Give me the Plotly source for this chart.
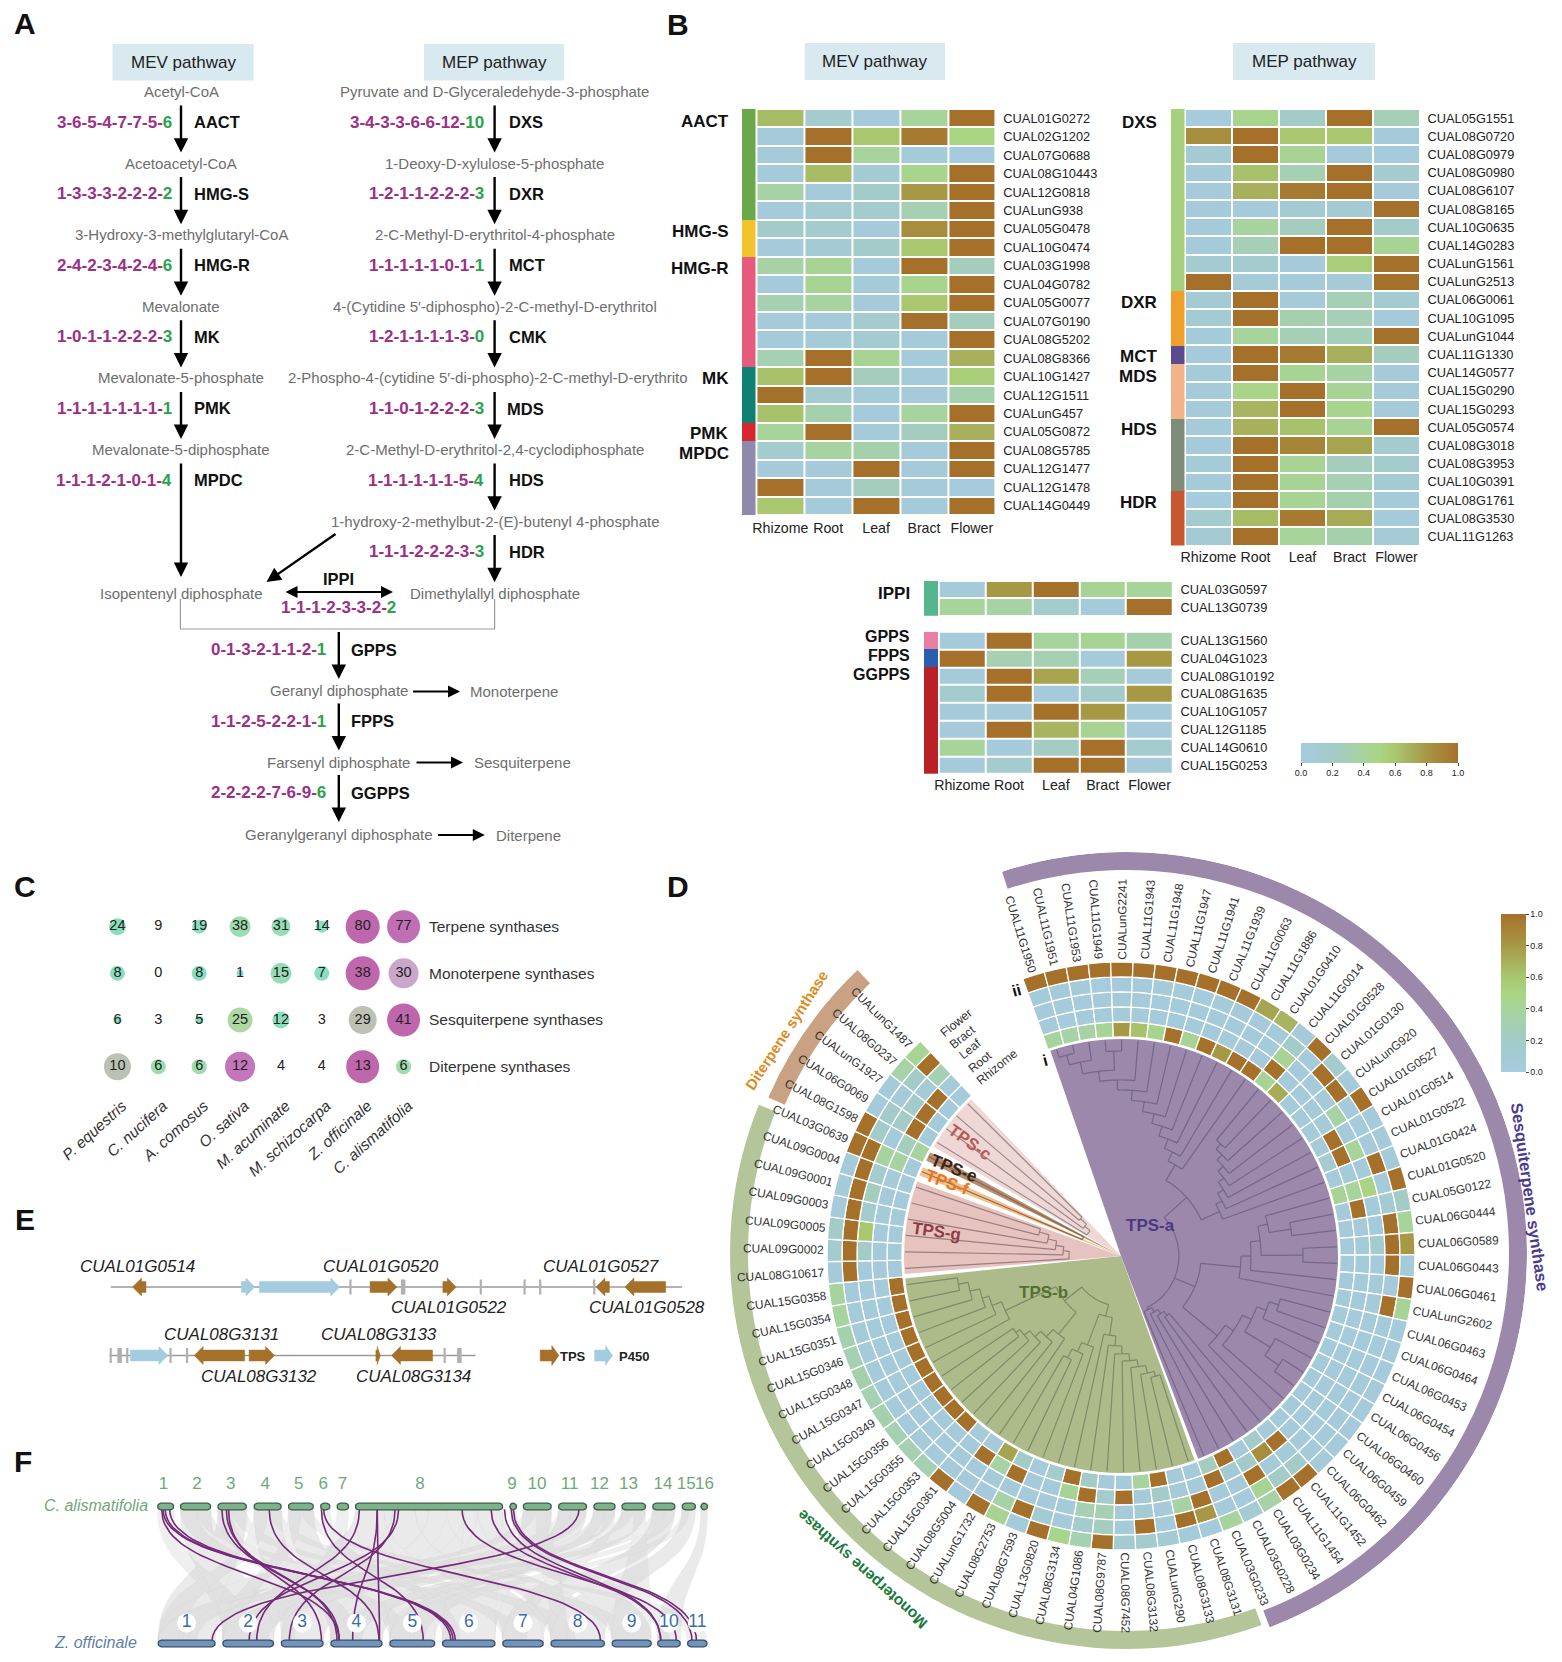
import numpy as np
import plotly.graph_objects as go

# ------------------------------------------------ DATA
tissues = ["Rhizome", "Root", "Leaf", "Bract", "Flower"]
mev_metabolites = ["Acetyl-CoA", "Acetoacetyl-CoA", "3-Hydroxy-3-methylglutaryl-CoA", "Mevalonate",
                   "Mevalonate-5-phosphate", "Mevalonate-5-diphosphate"]
mev_enzymes = ["AACT", "HMG-S", "HMG-R", "MK", "PMK", "MPDC"]
mev_counts = ["3-6-5-4-7-7-5-6", "1-3-3-3-2-2-2-2", "2-4-2-3-4-2-4-6", "1-0-1-1-2-2-2-3", "1-1-1-1-1-1-1-1", "1-1-1-2-1-0-1-4"]
mep_metabolites = ["Pyruvate and D-Glyceraledehyde-3-phosphate", "1-Deoxy-D-xylulose-5-phosphate",
                   "2-C-Methyl-D-erythritol-4-phosphate", "4-(Cytidine 5′-diphospho)-2-C-methyl-D-erythritol",
                   "2-Phospho-4-(cytidine 5′-di-phospho)-2-C-methyl-D-erythrito",
                   "2-C-Methyl-D-erythritol-2,4-cyclodiphosphate", "1-hydroxy-2-methylbut-2-(E)-butenyl 4-phosphate"]
mep_enzymes = ["DXS", "DXR", "MCT", "CMK", "MDS", "HDS", "HDR"]
mep_counts = ["3-4-3-3-6-6-12-10", "1-2-1-1-2-2-2-3", "1-1-1-1-1-0-1-1", "1-2-1-1-1-1-3-0", "1-1-0-1-2-2-2-3", "1-1-1-1-1-1-5-4", "1-1-1-2-2-2-3-3"]
end_metabolites = ["Geranyl diphosphate", "Farsenyl diphosphate", "Geranylgeranyl diphosphate"]
end_enzymes = ["GPPS", "FPPS", "GGPPS"]
end_counts = ["0-1-3-2-1-1-2-1", "1-1-2-5-2-2-1-1", "2-2-2-2-7-6-9-6"]
end_products = ["Monoterpene", "Sesquiterpene", "Diterpene"]

mev_genes = ["CUAL01G0272", "CUAL02G1202", "CUAL07G0688", "CUAL08G10443", "CUAL12G0818", "CUALunG938", "CUAL05G0478", "CUAL10G0474",
             "CUAL03G1998", "CUAL04G0782", "CUAL05G0077", "CUAL07G0190", "CUAL08G5202", "CUAL08G8366", "CUAL10G1427", "CUAL12G1511",
             "CUALunG457", "CUAL05G0872", "CUAL08G5785", "CUAL12G1477", "CUAL12G1478", "CUAL14G0449"]
mev_values = [[.65,.15,.05,.4,1],[.05,1,.6,.95,.5],[.05,1,.4,.05,.03],[.05,.65,.1,.45,1],[.35,.05,.2,.8,1],[.05,.12,.15,.3,1],
              [.2,.15,.05,.85,1],[.05,.1,.2,.6,1],[.35,.42,.05,1,.25],[.05,.42,.05,.45,1],[.3,.38,.05,.6,1],[.05,.05,.15,1,.25],
              [.05,.08,.12,.05,1],[.3,1,.42,.05,.7],[.62,1,.25,.05,.55],[1,.15,.07,.05,.32],[.62,.32,.05,.38,1],[.4,1,.05,.25,.7],
              [.15,.38,.32,.05,1],[.05,.05,1,.05,1],[1,.05,.25,.05,.03],[.6,.05,1,.05,1]]
mev_groups = [("AACT",6,"#6aa84a"),("HMG-S",2,"#f2c42b"),("HMG-R",6,"#e45b7b"),("MK",3,"#0f8173"),("PMK",1,"#d9262e"),("MPDC",4,"#8f8aab")]
mep_genes = ["CUAL05G1551","CUAL08G0720","CUAL08G0979","CUAL08G0980","CUAL08G6107","CUAL08G8165","CUAL10G0635","CUAL14G0283","CUALunG1561",
             "CUALunG2513","CUAL06G0061","CUAL10G1095","CUALunG1044","CUAL11G1330","CUAL14G0577","CUAL15G0290","CUAL15G0293","CUAL05G0574",
             "CUAL08G3018","CUAL08G3953","CUAL10G0391","CUAL08G1761","CUAL08G3530","CUAL11G1263"]
mep_values = [[.03,.45,.2,1,.28],[.85,1,.6,.6,.05],[.1,1,.42,.05,.03],[.05,.62,.3,1,.15],[.05,.7,.95,1,.05],[.05,.05,.1,.1,1],[.05,.38,.25,1,.18],
              [.05,.28,1,1,.42],[.12,.15,.05,.55,1],[1,.08,.05,.08,1],[.1,1,.05,.28,.12],[.1,1,.32,.28,.05],[.05,.4,.28,.28,1],[.05,1,.95,.7,.25],
              [.05,1,.42,.35,.05],[.05,.48,1,.42,.05],[.05,.68,1,.45,.05],[.05,.7,.62,.42,1],[.05,1,.9,.75,.15],[.05,1,.42,.25,.15],[.05,1,.42,.3,.12],
              [.03,1,.42,.32,.05],[.15,.65,.95,.72,.05],[.1,1,.4,.32,.08]]
mep_groups = [("DXS",10,"#a6cf7e"),("DXR",3,"#ef9f2a"),("MCT",1,"#5b4a8e"),("MDS",3,"#f3b389"),("HDS",4,"#7f8c78"),("HDR",3,"#c8562f")]
ippi_genes = ["CUAL03G0597", "CUAL13G0739"]
ippi_values = [[.05,.8,1,.42,.4],[.4,.35,.15,.05,1]]
ippi_groups = [("IPPI",2,"#55b58c")]
pp_genes = ["CUAL13G1560","CUAL04G1023","CUAL08G10192","CUAL08G1635","CUAL10G1057","CUAL12G1185","CUAL14G0610","CUAL15G0253"]
pp_values = [[.05,1,.4,.42,.32],[1,.3,.3,.05,.8],[.05,1,.75,.28,.05],[.15,1,.05,.18,.8],[.05,.05,1,.8,.05],[.05,1,.68,.42,.05],[.4,.05,.22,1,.15],[.05,.15,1,1,.05]]
pp_groups = [("GPPS",1,"#e97fa2"),("FPPS",1,"#2a5fae"),("GGPPS",6,"#ba2127")]

species = ["P. equestris","C. nucifera","A. comosus","O. sativa","M. acuminate","M. schizocarpa","Z. officinale","C. alismatifolia"]
tps_classes = ["Terpene synthases","Monoterpene synthases","Sesquiterpene synthases","Diterpene synthases"]
tps_counts = [[24,9,19,38,31,14,80,77],[8,0,8,1,15,7,38,30],[6,3,5,25,12,3,29,41],[10,6,6,12,4,4,13,6]]

tps_genes = ["CUAL11G1950","CUAL11G1951","CUAL11G1953","CUAL11G1949","CUALunG2241","CUAL11G1943","CUAL11G1948","CUAL11G1947","CUAL11G1941","CUAL11G1939",
 "CUAL11G0063","CUAL11G1886","CUAL01G0410","CUAL11G0014","CUAL01G0528","CUAL01G0130","CUALunG920","CUAL01G0527","CUAL01G0514","CUAL01G0522","CUAL01G0424",
 "CUAL01G0520","CUAL05G0122","CUAL06G0444","CUAL06G0589","CUAL06G0443","CUAL06G0461","CUALunG2602","CUAL06G0463","CUAL06G0464","CUAL06G0453","CUAL06G0454",
 "CUAL06G0456","CUAL06G0460","CUAL06G0459","CUAL06G0462","CUAL11G1452","CUAL11G1454","CUAL03G0234","CUAL03G0228","CUAL03G0233",
 "CUAL08G3131","CUAL08G3133","CUALunG290","CUAL08G3132","CUAL08G7452","CUAL08G9787","CUAL04G1086","CUAL08G3134","CUAL13G0820","CUAL08G7593","CUAL08G2753",
 "CUALunG1732","CUAL08G5004","CUAL15G0361","CUAL15G0353","CUAL15G0355","CUAL15G0356","CUAL15G0349","CUAL15G0347","CUAL15G0348","CUAL15G0346","CUAL15G0351",
 "CUAL15G0354","CUAL15G0358","CUAL08G10617","CUAL09G0002","CUAL09G0005","CUAL09G0003","CUAL09G0001","CUAL09G0004",
 "CUAL03G0639","CUAL08G1598","CUAL06G0069","CUALunG1927","CUAL08G0237","CUALunG1487"]
tps_values = [
 [.38,.05,.05,.05,1],[.35,.03,.05,.05,1],[.35,.05,.03,.05,1],[.42,.05,.05,.03,1],[.8,.05,.05,.05,1],[.62,.05,.05,.05,1],[.45,.05,.03,.05,1],
 [1,.05,.05,.05,1],[.42,.05,.05,.03,1],[1,.05,.05,.05,1],[.8,.05,.05,.05,1],[1,.05,.05,.05,.75],[1,.05,.05,.05,.68],[.42,1,.42,.18,.05],
 [.72,.05,.05,.05,1],[.05,.05,.05,1,.15],[.05,.05,.05,1,.05],[.05,.05,.35,.05,1],[.05,1,.05,.05,.05],[.12,1,.4,.05,.05],[.05,.05,.05,1,.05],
 [.42,.4,.5,.05,1],[.05,1,.05,.1,.2],[.05,.05,.05,1,.4],[.05,.08,.15,1,.8],[.05,.05,.05,1,.05],[.05,.05,.05,.05,1],[.05,.05,.05,1,.42],
 [.05,.05,.05,.05,.05],[.05,.05,.05,.05,.05],[.05,.05,.05,.05,.05],[.05,.05,.05,.05,.05],[.05,.05,.05,.05,.05],[.05,.05,.05,.05,.05],
 [.05,.05,.05,.05,.05],[.05,.05,.05,.05,.05],[.05,1,.05,.2,1],[.18,.85,.05,.2,1],[.05,.18,1,.42,.35],[1,.1,.05,.05,.1],[.25,1,.05,.05,.38],
 [.05,.05,1,.8,.05],[.05,.05,.35,1,.05],[1,.18,.05,.05,.12],[.38,.05,.12,1,.15],[.05,1,.05,.05,.15],[.05,.15,.3,.25,1],[.2,1,.3,.15,.3],
 [1,.42,.05,.05,.45],[.15,.05,.05,.1,1],[.05,.05,.05,1,.05],[.18,1,.05,.35,.42],[.75,.35,.05,.05,1],[.05,1,.05,.05,.05],[.05,.05,.05,.05,1],
 [1,.05,.05,.05,.3],[1,.05,.05,.05,.3],[1,.05,.05,.05,.3],[1,.05,.05,.05,.32],[1,.05,.05,.05,.3],[1,.05,.05,.05,.32],[1,.05,.05,.05,.3],
 [1,.05,.05,.05,.32],[1,.05,.05,.05,.38],[1,.05,.05,.05,.38],
 [.05,.05,.05,1,.05],[.05,.05,.2,1,.15],[.05,.05,.6,1,.2],[.05,.05,.15,1,.05],[.05,.05,.25,1,.05],[.05,.05,.15,1,.05],[.05,.38,.38,1,1],
 [.38,.25,.05,.18,1],[.05,1,.2,.18,.05],[.05,1,.2,.05,.05],[.05,1,.08,.2,.35],[.05,.05,.3,1,.42]]

# panel E, in track units
track1_genes = [(297,327,-1,"tps"),(541,571,1,"p450"),(581,761,1,"p450"),(829,889,1,"tps"),(992,1022,1,"tps"),(1335,1365,-1,"tps"),(1400,1491,-1,"tps")]
track2_genes = [(292,376,1,"p450"),(435,548,-1,"tps"),(558,615,1,"tps"),(842,852,1,"tps"),(877,969,-1,"tps")]
track1_exons = [785,1077,1175,1210,1331]
track1_exons_wide = [903]
track2_exons = [248,285,382,419,996]
track2_exons_wide = [268,1029]
track_names = [("CUAL01G0514",308,1266),("CUAL01G0520",854,1266),("CUAL01G0522",1006,1307.5),("CUAL01G0527",1346,1266),("CUAL01G0528",1450,1307.5),
               ("CUAL08G3131",496,1334),("CUAL08G3133",848,1334),("CUAL08G3132",580,1376),("CUAL08G3134",927,1376)]

# panel F
top_chrom = [(353,389),(404,472),(488,552),(569,630),(646,702),(718,739),(755,781),(796,1126),(1142,1157),(1172,1235),(1251,1314),(1330,1378),(1393,1446),(1462,1512),(1528,1558),(1570,1585)]
top_label_x = [366,441,517,594,669,724,767,941,1147,1203,1276,1343,1408,1485,1537,1578]
bot_chrom = [(354,482),(499,613),(630,724),(741,856),(873,974),(991,1109),(1126,1217),(1234,1354),(1371,1459),(1473,1524),(1540,1584)]
gray_links = [(404,472,499,613),(488,552,354,482),(569,630,630,724),(646,702,741,856),(796,880,354,482),(880,960,499,613),(960,1040,630,724),(1040,1126,991,1109),
 (796,860,873,974),(860,930,1126,1217),(930,1000,1234,1354),(1000,1070,741,856),(1070,1126,1371,1459),(1172,1235,991,1109),(1251,1314,873,974),(1330,1378,630,724),
 (1393,1446,741,856),(1462,1512,1126,1217),(1528,1558,1234,1354),(1570,1585,1473,1524),(353,389,499,560),(404,440,873,920),(440,472,1126,1170),(488,520,741,800),
 (520,552,1234,1290),(569,600,354,410),(600,630,1371,1420),(646,675,499,540),(675,702,1540,1584),(718,739,991,1030),(755,781,630,660),(1142,1157,1473,1500),
 (1172,1200,354,400),(1200,1235,1234,1270),(1251,1280,354,440),(1280,1314,499,570),(1330,1354,873,925),(1354,1378,1126,1180),(1393,1420,354,420),(1420,1446,1371,1459),
 (1462,1490,499,600),(1490,1512,741,810),(1528,1545,873,950)]
purple_links = [(365,1020),(370,1015),(380,1010),(362,760),(497,760),(507,755),(512,720),(603,849),(805,575),(845,790),(885,648),(893,558),(1297,475),(720,948),(725,1345),
                (1035,1515),(1100,1480),(1130,1480),(1145,1550),(1150,1560),(845,850)]

# ------------------------------------------------ helpers
W, H = 1546, 1646
FONT = "Liberation Sans"
PURPLE, GREEN = "#9c2f86", "#2ca24c"
GRAYTXT = "#6e6e6e"
HEAT = [[0,"#a5cbe0"],[.2,"#a3cbc8"],[.4,"#a7d49a"],[.5,"#a9d582"],[.6,"#a8c76f"],[.8,"#a79846"],[1,"#a5702a"]]
fx = lambda p: (p - 8) / W
fy = lambda p: 1 - (p - 8) / H

fig = go.Figure()
layout = dict(width=W, height=H, autosize=False, margin=dict(l=0, r=0, t=0, b=0, autoexpand=False), showlegend=False,
              paper_bgcolor="white", plot_bgcolor="white", font=dict(family=FONT, color="#222"),
              xaxis=dict(domain=[0,1], range=[8,8+W], visible=False, fixedrange=True),
              yaxis=dict(domain=[0,1], range=[8+H,8], visible=False, fixedrange=True))
axn = [1]
def new_axes(px0, px1, py0, py1, xopt, yopt):
    axn[0] += 1
    n = axn[0]
    layout[f"xaxis{n}"] = dict(domain=[fx(px0), fx(px1)], anchor=f"y{n}", fixedrange=True, **xopt)
    layout[f"yaxis{n}"] = dict(domain=[fy(py1), fy(py0)], anchor=f"x{n}", fixedrange=True, **yopt)
    return f"x{n}", f"y{n}"

anns = []
def txt(x, y, s, size=14, color="#222", xa="center", angle=0):
    anns.append(dict(x=x, y=y, xref="x", yref="y", text=s, showarrow=False, xanchor=xa, yanchor="middle",
                     textangle=angle, font=dict(size=size, color=color, family=FONT)))
def arrow(x0, y0, x1, y1, side="end", w=2.4):
    anns.append(dict(x=x1, y=y1, ax=x0, ay=y0, xref="x", yref="y", axref="x", ayref="y", text="", showarrow=True,
                     arrowhead=2, arrowsize=1.2, arrowwidth=w, arrowcolor="black", arrowside=side, startarrowhead=2, startarrowsize=1.2, standoff=0, startstandoff=0))
def counts(x, y, s, xa="right"):
    head, last = s.rsplit("-", 1)
    txt(x, y, f'<b>{head}-<span style="color:{GREEN}">{last}</span></b>', 17, PURPLE, xa)

shapes = []
def box(x0, y0, x1, y1, label, size=17):
    shapes.append(dict(type="rect", xref="x", yref="y", x0=x0, x1=x1, y0=y0, y1=y1, fillcolor="#d8e9f0", line_width=0, layer="below"))
    txt((x0+x1)/2, (y0+y1)/2, label, size, "#222")

for s, x, y in [("A",24.5,23),("B",678,24),("C",24.5,886),("D",678,886),("E",24.5,1219),("F",23,1461)]:
    txt(x, y, f"<b>{s}</b>", 30, "#111")

# ------------------------------------------------ panel A
box(112.5, 44, 253.6, 80.5, "MEV pathway")
box(424, 44, 564, 80.5, "MEP pathway")
X1, X2, X3 = 181, 494.6, 338.8
STEP, BASE = 71.6, 91.5
GF = 15
for i, (m, e, c) in enumerate(zip(mev_metabolites, mev_enzymes, mev_counts)):
    y = BASE + STEP*i
    txt(X1, y, m, GF, GRAYTXT)
    counts(174, y+30.5, c)
    txt(192.4, y+30.5, f"<b>{e}</b>", 16.5, "#111", "left")
    arrow(X1, y+12.5, X1, (y+STEP-10.5) if i < 5 else 577)
for i, (m, e, c) in enumerate(zip(mep_metabolites, mep_enzymes, mep_counts)):
    y = BASE + STEP*i
    txt(487.5 if i == 4 else X2, y, m, GF, GRAYTXT)
    counts(486, y+30.5, c)
    txt(504.5 if e == "MDS" else 506.7, y+30.5 + (1 if e == "MDS" else 0), f"<b>{e}</b>", 16.5, "#111", "left")
    arrow(X2, y+12.5, X2, y+STEP-10.5)
txt(X1, 593, "Isopentenyl diphosphate", GF, GRAYTXT)
txt(X2, 593, "Dimethylallyl diphosphate", GF, GRAYTXT)
arrow(337, 533, 266.5, 582)
arrow(284, 592, 393, 592, side="end+start", w=2)
txt(X3, 578.5, "<b>IPPI</b>", 16.5, "#111")
counts(X3, 607, "1-1-1-2-3-3-2-2", "center")
shapes.append(dict(type="path", xref="x", yref="y", path=f"M {X1-0.6} 599 L {X1-0.6} 629 L {X2} 629 L {X2} 599", line=dict(color="#9a9a9a", width=1.2)))
ENDX = [(411.6,460,691.5,514),(415,463,762.5,522),(436.6,484.8,835,528)]
for i, (m, e, c, p) in enumerate(zip(end_metabolites, end_enzymes, end_counts, end_products)):
    ytop = 630.5 + 71.5*i
    arrow(X3, ytop, X3, ytop+48.5)
    counts(328, ytop+19, c)
    txt(348.7, ytop+19, f"<b>{e}</b>", 16.5, "#111", "left")
    txt(X3, 690.5 + 71.8*i, m, GF, GRAYTXT)
    a0, a1, ya, xp = ENDX[i]
    arrow(a0, ya, a1, ya, w=2)
    txt(xp, ya, p, GF, GRAYTXT)

# ------------------------------------------------ panel B
def heat_block(genes, values, groups, px0, px1, py0, py1, bar0, bar1, glabel_x, glabel_y, xticks=True, cbar=False, gsize=17, standoff=1):
    ax, ay = new_axes(px0, px1, py0, py1,
        dict(type="category", categoryorder="array", categoryarray=tissues, range=[-.5,4.5], showgrid=False, zeroline=False, showline=False,
             side="bottom", tickangle=0, ticks="", tickfont=dict(size=14.2, color="#222"), showticklabels=xticks, ticklabelstandoff=standoff),
        dict(type="category", categoryorder="array", categoryarray=genes, range=[len(genes)-.5,-.5], side="right", showgrid=False, zeroline=False, showline=False,
             ticks="outside", ticklen=4, tickcolor="rgba(0,0,0,0)", tickfont=dict(size=12.8, color="#222"), tickmode="array", tickvals=genes, ticktext=genes))
    h = go.Heatmap(z=values, x=tissues, y=genes, colorscale=HEAT, zmin=0, zmax=1, xgap=2, ygap=2, xaxis=ax, yaxis=ay, hoverinfo="skip", showscale=cbar)
    if cbar:
        h.colorbar = dict(orientation="h", x=fx(1301), xanchor="left", y=fy(743), yanchor="top", len=157, lenmode="pixels", thickness=20, outlinewidth=0,
                          tickvals=[0,.2,.4,.6,.8,1], ticktext=["0.0","0.2","0.4","0.6","0.8","1.0"], ticks="outside", ticklen=3, tickfont=dict(size=9, color="#222"), xpad=0, ypad=0)
    fig.add_trace(h)
    bx, _ = new_axes(bar0, bar1, py0, py1, dict(visible=False, type="category"), dict(visible=False))
    gi = [i for i, g in enumerate(groups) for _ in range(g[1])]
    cs = []
    for i, g in enumerate(groups):
        cs += [[i/len(groups), g[2]], [(i+1)/len(groups), g[2]]]
    fig.add_trace(go.Heatmap(z=[[i+.5] for i in gi], x=["group"], y=genes, colorscale=cs, zmin=0, zmax=len(groups), xaxis=bx, yaxis=ay, showscale=False, hoverinfo="skip"))
    for g, y in zip(groups, glabel_y):
        txt(glabel_x, y, f"<b>{g[0]}</b>", gsize, "#111", "right")

box(804.7, 43, 945, 80, "MEV pathway")
box(1233, 43, 1375, 80, "MEP pathway")
heat_block(mev_genes, mev_values, mev_groups, 756.4, 995.8, 109, 515, 742, 755.5, 731, [121,231,268,378,433,453], standoff=3)
heat_block(mep_genes, mep_values, mep_groups, 1185, 1420, 109, 545.5, 1171, 1184.5, 1159, [122,302,356,376,429,502])
heat_block(ippi_genes, ippi_values, ippi_groups, 938.7, 1173, 581, 615.7, 924, 938, 912, [593], xticks=False, cbar=True)
heat_block(pp_genes, pp_values, pp_groups, 938.7, 1173, 631.7, 774, 924, 938, 912, [636,655,674], gsize=16)

# ------------------------------------------------ panel C
cx, cy = new_axes(97, 424, 903.3, 1090,
    dict(type="category", categoryorder="array", categoryarray=species, range=[-.5,7.5], showgrid=False, zeroline=False, tickangle=-42, ticks="",
         tickfont=dict(size=15.5, color="#333", style="italic"), ticklabelstandoff=3, ticklabelshift=5),
    dict(type="category", categoryorder="array", categoryarray=tps_classes, range=[3.5,-.5], side="right", showgrid=False, zeroline=False, ticks="",
         tickfont=dict(size=15.5, color="#333"), ticklabelstandoff=4))
bubble_diam = [[17,0,14,21,19,12,34,33],[15,0,15,7,21,15,34,30],[8,0,8,25,17,0,28,33],[27,15,15,30,0,0,33,15]]
px_, py_, tt, col = [], [], [], []
for r, row in zip(tps_classes, tps_counts):
    for sp, v in zip(species, row):
        px_.append(sp); py_.append(r); tt.append(str(v)); col.append(v/max(row))
sz = [d for row in bubble_diam for d in row]
fig.add_trace(go.Scatter(x=px_, y=py_, text=tt, mode="markers+text", xaxis=cx, yaxis=cy, textposition="middle center", textfont=dict(size=14.5, color="#222"),
    cliponaxis=False, hoverinfo="skip",
    marker=dict(size=sz, sizemode="diameter", color=col, cmin=0, cmax=1, line_width=0, opacity=.95,
                colorscale=[[0,"#7fdcc8"],[.3,"#85dcb8"],[.6,"#a8d89c"],[.71,"#bcbcb0"],[.77,"#b5bfb0"],[.79,"#c8a0c8"],[.92,"#c070b8"],[1,"#bb5fa9"]])))

# ------------------------------------------------ panel E
ex, ey = new_axes(100, 700, 1270, 1375,
    dict(range=[100*2.24, 700*2.24], visible=False), dict(range=[2+19.5/68.5, 1-17/68.5], visible=False))
BROWN, BLUE = "#a5702a", "#a3cce0"
def gene_poly(x0, x1, tr, d, b=.079, hh=.131, hl=20):
    hl = min(hl, (x1-x0)*.7)
    if d > 0:
        xs = [x0, x1-hl, x1-hl, x1, x1-hl, x1-hl, x0, x0]
    else:
        xs = [x1, x0+hl, x0+hl, x0, x0+hl, x0+hl, x1, x1]
    ys = [tr-b, tr-b, tr-hh, tr, tr+hh, tr+b, tr+b, tr-b]
    return xs, ys
fig.add_trace(go.Scatter(x=[248,1528,None,245,1065], y=[1,1,None,2,2], mode="lines", line=dict(color="#9a9a9a", width=1.4), xaxis=ex, yaxis=ey, hoverinfo="skip"))
for lists, wd in (((track1_exons, track2_exons), 2.2), ((track1_exons_wide, track2_exons_wide), 4.5)):
    ex_x, ex_y = [], []
    for t, lst in zip((1, 2), lists):
        for v in lst:
            ex_x += [v, v, None]; ex_y += [t-.11, t+.11, None]
    fig.add_trace(go.Scatter(x=ex_x, y=ex_y, mode="lines", line=dict(color="#b0b0b0", width=wd), xaxis=ex, yaxis=ey, hoverinfo="skip"))
for kind, color in (("tps", BROWN), ("p450", BLUE)):
    xs, ys = [], []
    for t, lst in ((1, track1_genes), (2, track2_genes)):
        for a, b, d, k in lst:
            if k == kind:
                gx, gy = gene_poly(a, b, t, d)
                xs += gx + [None]; ys += gy + [None]
    a, b = (1210, 1252) if kind == "tps" else (1332, 1372)
    gx, gy = gene_poly(a, b, 2, 1, .08, .145, 16)
    xs += gx + [None]; ys += gy + [None]
    fig.add_trace(go.Scatter(x=xs, y=ys, mode="lines", fill="toself", fillcolor=color, line=dict(color=color, width=.5), xaxis=ex, yaxis=ey, hoverinfo="skip"))
for name, x, y in track_names:
    txt(x/2.24, y, f"<i>{name}</i>", 17, "#222")
txt(558, 1356, "<b>TPS</b>", 13, "#222", "left")
txt(617, 1356, "<b>P450</b>", 13, "#222", "left")

# ------------------------------------------------ panel F
shapes.append(dict(type="rect", xref="x", yref="y", x0=45, x1=712, y0=1497, y1=1650, fillcolor="#f8f8f8", line_width=0, layer="below"))
Y0, Y1 = 1506.5, 1643.5
fxa, fya = new_axes(40, 720, 1470, 1654,
    dict(range=[40*2.24, 720*2.24], visible=False),
    dict(range=[(1654-Y0)/(Y1-Y0), (1470-Y0)/(Y1-Y0)], visible=False))
def bez(x0, x1, n=30, y0=.02, y1=.98):
    t = np.linspace(0, 1, n)
    xs = (1-t)**3*x0 + 3*(1-t)**2*t*x0 + 3*(1-t)*t**2*x1 + t**3*x1
    ys = (1-t)**3*y0 + 3*(1-t)**2*t*(y0+.5) + 3*(1-t)*t**2*(y1-.5) + t**3*y1
    return xs.tolist(), ys.tolist()
for sel, color in ((slice(0,20), "rgba(205,205,205,.42)"), (slice(20,None), "rgba(205,205,205,.32)")):
    xs, ys = [], []
    for a0, a1, b0, b1 in gray_links[sel]:
        l1x, l1y = bez(a0, b0)
        l2x, l2y = bez(a1, b1)
        xs += l1x + l2x[::-1] + [l1x[0], None]
        ys += l1y + l2y[::-1] + [l1y[0], None]
    fig.add_trace(go.Scatter(x=xs, y=ys, mode="lines", fill="toself", fillcolor=color, line=dict(color=color, width=.5), xaxis=fxa, yaxis=fya, hoverinfo="skip"))
xs, ys = [], []
for a, b in purple_links:
    lx, ly = bez(a, b, 40)
    xs += lx + [None]; ys += ly + [None]
fig.add_trace(go.Scatter(x=xs, y=ys, mode="lines", line=dict(color="#742a78", width=1.6), xaxis=fxa, yaxis=fya, hoverinfo="skip"))
def capsule(a, b, yy, hy=.024, rx=7.3):
    t = np.linspace(-np.pi/2, np.pi/2, 9)
    xs = (b-rx+rx*np.cos(t)).tolist() + (a+rx-rx*np.cos(t)).tolist()
    ys = (yy+hy*np.sin(t)).tolist() + (yy-hy*np.sin(t)).tolist()
    return xs + [xs[0], None], ys + [ys[0], None]
for chrom, yy, dark, fill in ((top_chrom, 0, "#3a5a45", "#7db38a"), (bot_chrom, 1, "#3a4a60", "#6f95bf")):
    xs, ys = [], []
    for a, b in chrom:
        cxs, cys = capsule(a, b, yy)
        xs += cxs; ys += cys
    fig.add_trace(go.Scatter(x=xs, y=ys, mode="lines", fill="toself", fillcolor=fill, line=dict(color=dark, width=1.3), xaxis=fxa, yaxis=fya, hoverinfo="skip"))
fig.add_trace(go.Scatter(x=top_label_x, y=[-.157]*len(top_chrom), text=[str(i+1) for i in range(len(top_chrom))], mode="text",
                         textfont=dict(size=17, color="#6fa77a"), xaxis=fxa, yaxis=fya, hoverinfo="skip", cliponaxis=False))
fig.add_trace(go.Scatter(x=[(a+b)/2 for a, b in bot_chrom], y=[.85]*len(bot_chrom), text=[str(i+1) for i in range(len(bot_chrom))], mode="markers+text",
                         marker=dict(size=19, color="white"), textposition="middle center",
                         textfont=dict(size=17.5, color="#3b6ca8"), xaxis=fxa, yaxis=fya, hoverinfo="skip", cliponaxis=False))
txt(149.5, 1505.5, "<i>C. alismatifolia</i>", 16, "#6fa77a", "right")
txt(139, 1642, "<i>Z. officinale</i>", 16, "#5f7fa5", "right")

# ------------------------------------------------ panel D
CX, CY, R = 1121, 1256, 398
A0, DA = 340.5, 4.37
invisible_axes = dict(angularaxis=dict(direction="clockwise", rotation=90, visible=False, showgrid=False, showline=False, ticks="", showticklabels=False))
layout["polar"] = dict(domain=dict(x=[fx(CX-R), fx(CX+R)], y=[fy(CY+R), fy(CY-R)]), barmode="overlay", bgcolor="rgba(0,0,0,0)",
    radialaxis=dict(range=[0,R], visible=False, showgrid=False, showline=False, ticks="", showticklabels=False), **invisible_axes)
AX, AY, AR = 1126, 1253, 401
layout["polar2"] = dict(domain=dict(x=[fx(AX-AR), fx(AX+AR)], y=[fy(AY+AR), fy(AY-AR)]), barmode="overlay", bgcolor="rgba(0,0,0,0)",
    radialaxis=dict(range=[0,AR], visible=False, showgrid=False, showline=False, ticks="", showticklabels=False), **invisible_axes)
leaf_ang = lambda i: A0 + (i+.5)*DA
edge = lambda i: A0 + i*DA
# clade wedges
clades = [("a",0,41,"#9b88ab",0),("b",41,65,"#adbb8b",0),("g",65,71,"#e7c3bf",.4),("f",71,72,"#f4c18c",1.0),("e",72,73,"#b78e74",1.0),("c",73,77,"#eed7d4",.4)]
fig.add_trace(go.Barpolar(theta=[(edge(a)+edge(b))/2 for _, a, b, _, _ in clades], width=[(b-a)*DA-1.0-p for _, a, b, _, p in clades],
    r=[217]*6, base=[0]*6, marker=dict(color=[c[3] for c in clades], line_width=0), hoverinfo="skip"))
# heat rings
th, ba, co = [], [], []
for i, row in enumerate(tps_values):
    for k, v in enumerate(row):
        th.append(leaf_ang(i)); ba.append(219+15*k); co.append(v)
fig.add_trace(go.Barpolar(theta=th, r=[15]*len(th), base=ba, width=[DA]*len(th), hoverinfo="skip",
    marker=dict(color=co, colorscale=HEAT, cmin=0, cmax=1, line=dict(color="white", width=1.3), showscale=True,
        colorbar=dict(x=fx(1501), xanchor="left", y=fy(1072), yanchor="bottom", len=158, lenmode="pixels", thickness=25, outlinewidth=0, xpad=0, ypad=0,
                      tickvals=[0,.2,.4,.6,.8,1], ticktext=["0.0","0.2","0.4","0.6","0.8","1.0"], ticks="outside", ticklen=3, tickfont=dict(size=9, color="#222")))))
# outer class arcs
arcs = [(342,519,383,"#9b88ab"),(160,292,378,"#b5c59a"),(293.5,316.5,372,"#c9a284")]
fig.add_trace(go.Barpolar(theta=[(a[0]+a[1])/2 for a in arcs], width=[a[1]-a[0] for a in arcs], r=[18]*3, base=[a[2] for a in arcs],
                          marker=dict(color=[a[3] for a in arcs], line_width=0), hoverinfo="skip", subplot="polar2"))
# dendrogram
def lad(leaves, radii):
    node = leaves[0]
    for l, r in zip(leaves[1:], radii):
        node = (r, [node, l])
    return node
a1 = lad([0,1,2,(205,[3,4]),5,6,7,8,9,10,11,12],[208,198,186,176,166,156,146,136,126,116,106])
a2 = lad([13,14,15,16,17,18,19,20],[150,143,136,129,122,115,108])
a3 = lad([21,(172,[22,23]),(182,[24,25]),26,27],[150,140,130,120])
a4 = lad([28,29,30,(175,[31,(192,[32,33])]),34,35],[165,155,145,135,125])
a5 = lad([36,37,38,39,40],[75,70,65,60])
tree_a = (58,[(88,[a1,a2]),(80,[a3,a4]),a5])
b1 = lad([64,63,62,61,60,59],[165,155,145,138,128])
b2 = lad([58,57,56,55,54,53],[130,125,118,110,100])
b3 = lad([41,42,43,44,45,46,47,48],[125,120,112,105,98,90,80])
b4 = lad([52,51,50,49],[115,105,95])
tree_b = (50,[(72,[b1,b2]),(62,[b3,b4])])
tree_g = lad([70,69,68,67,66,65],[85,75,66,58,52])
tree_ef = (42,[71,72])
tree_c = lad([76,75,74,73],[55,47,40])
def walk(node, out):
    if isinstance(node, int):
        return leaf_ang(node), 216
    r, kids = node
    res = [walk(k, out) for k in kids]
    angs = [a for a, _ in res]
    for a, rk in res:
        out[0].extend([a, a, None]); out[1].extend([r, rk, None])
    arc = np.linspace(min(angs), max(angs), 12).tolist()
    out[0].extend(arc + [None]); out[1].extend([r]*12 + [None])
    return float(np.mean(angs)), r
for tree, color in ((tree_a,"#75678a"),(tree_b,"#7e8b68"),(tree_g,"#9a7d80"),(tree_c,"#9a8a8a"),(tree_ef,"#8a6a50")):
    out = ([], [])
    walk(tree, out)
    fig.add_trace(go.Scatterpolar(theta=out[0], r=out[1], mode="lines", line=dict(color=color, width=1.2), hoverinfo="skip", subplot="polar"))
# leaf labels
ADV = {"C":.722,"U":.722,"A":.667,"L":.556,"G":.778,"u":.556,"n":.556}
LF = 11.9
for i, g in enumerate(tps_genes):
    t = leaf_ang(i) % 360
    w = sum(ADV.get(c,.556) for c in g)*LF
    rc = 297 + w/2
    x = CX + rc*np.sin(np.radians(t)); y = CY - rc*np.cos(np.radians(t))
    ang = t-90 if t < 180 else t-270
    txt(float(x), float(y), g, LF, "#333", angle=float(ang))
for s, x, y in [("Flower",956,1023),("Bract",962.7,1037),("Leaf",970,1049),("Root",980,1062),("Rhizome",997,1067)]:
    txt(x, y, s, 12.2, "#333", angle=-39)
for s, x, y, c, ang in [("TPS-a",1150,1225,"#4d3a82",0),("TPS-b",1043,1292,"#55702f",0),("TPS-g",936,1231,"#8f3d44",8),
                        ("TPS-f",947,1182,"#e8751f",20),("TPS-e",954,1168,"#3a2515",22),("TPS-c",970,1142,"#b65a5a",36)]:
    txt(x, y, f"<b>{s}</b>", 17, c, angle=ang)
txt(1045, 1060, "<b>i</b>", 16, "#111", angle=-15)
txt(1016, 990, "<b>ii</b>", 16, "#111", angle=-15)
txt(1530, 1197, "<b>Sesquiterpene synthase</b>", 16.5, "#4a3a90", angle=82)
txt(862, 1570, "<b>Monoterpene synthase</b>", 15.5, "#1a7a3a", angle=-138)
txt(786, 1030, "<b>Diterpene synthase</b>", 15, "#e08a1e", angle=-57)

layout["annotations"] = anns
layout["shapes"] = shapes
fig.update_layout(**layout)
fig.write_html("out.html")
